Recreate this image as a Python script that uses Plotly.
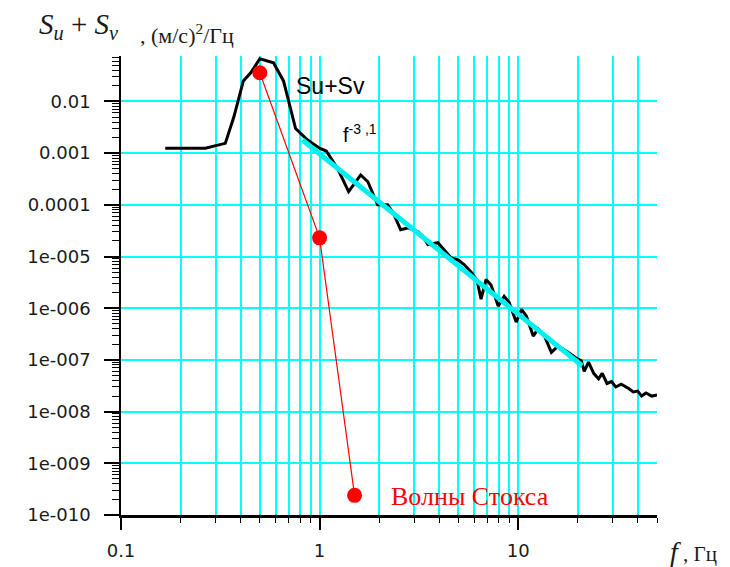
import numpy as np
import plotly.graph_objects as go

# Measured spectrum Su+Sv
freq = [0.167, 0.266, 0.30, 0.335, 0.37, 0.413, 0.45, 0.50, 0.586, 0.658, 0.757, 0.87,
        1.0, 1.08, 1.23, 1.4, 1.61, 1.75, 1.96, 2.2, 2.35, 2.56, 2.8, 3.13, 3.3, 3.51,
        3.94, 4.2, 4.59, 5.0, 5.34, 5.8, 6.2, 6.5, 6.89, 7.3, 7.93, 8.5, 9.0, 9.77,
        10.4, 11.0, 11.9, 12.6, 13.5, 14.7, 15.9, 17.9, 19.5, 20.8, 21.5, 22.6, 24.0,
        25.4, 26.5, 28.0, 29.5, 31.0, 33.0, 36.0, 38.0, 40.0, 41.8, 44.0, 47.0, 50.0]
spec = [1.25e-3, 1.25e-3, 1.4e-3, 1.55e-3, 5e-3, 2.5e-2, 3.6e-2, 6.7e-2, 5.6e-2, 2.5e-2,
        3.0e-3, 1.8e-3, 1.25e-3, 1.1e-3, 5.1e-4, 1.8e-4, 3.8e-4, 2.8e-4, 1.0e-4, 1.0e-4,
        7e-5, 3.3e-5, 3.6e-5, 3.0e-5, 2.5e-5, 1.7e-5, 1.85e-5, 1.4e-5, 9.5e-6, 8.5e-6,
        7e-6, 5e-6, 3.5e-6, 1.5e-6, 3.6e-6, 2.8e-6, 1.1e-6, 1.7e-6, 1.3e-6, 5.4e-7,
        9.5e-7, 7e-7, 2.9e-7, 4e-7, 3e-7, 1.4e-7, 1.86e-7, 1.4e-7, 1.1e-7, 9.6e-8, 6e-8,
        9.1e-8, 5.5e-8, 4.3e-8, 5.5e-8, 3.5e-8, 3.8e-8, 3.0e-8, 3.4e-8, 2.8e-8, 2.4e-8,
        2.5e-8, 2.0e-8, 2.3e-8, 2.0e-8, 2.1e-8]

# Power-law fit f^-3.1 (end points)
fit_f = [0.82, 21.0]
fit_s = [1.8e-3, 7.7e-8]

# Stokes waves
stokes_f = [0.5, 1.0, 1.5]
stokes_s = [3.6e-2, 2.3e-5, 2.4e-10]

# Axis ticks
x_ticks = [0.1, 1, 10]
x_labels = ["0.1", "1", "10"]
y_ticks = [1e-2, 1e-3, 1e-4, 1e-5, 1e-6, 1e-7, 1e-8, 1e-9, 1e-10]
y_labels = ["0.01", "0.001", "0.0001", "1e-005", "1e-006", "1e-007", "1e-008",
            "1e-009", "1e-010"]

x_minor = [k * 10.0 ** n for n in (-1, 0, 1) for k in range(2, 10) if k * 10.0 ** n <= 50]
y_minor = [k * 10.0 ** n for n in range(-10, -1) for k in range(2, 10)]

CYAN = "#00FFFF"
tick_font = dict(family="DejaVu Sans", size=18, color="#1a1a1a")

fig = go.Figure()
fig.add_trace(go.Scatter(x=freq, y=spec, mode="lines",
                         line=dict(color="black", width=3)))
fig.add_trace(go.Scatter(x=fit_f, y=fit_s, mode="lines",
                         line=dict(color="#00F0F0", width=5)))
fig.add_trace(go.Scatter(x=stokes_f, y=stokes_s, mode="lines+markers",
                         line=dict(color="red", width=1.2),
                         marker=dict(color="red", size=15), cliponaxis=False))

fig.update_xaxes(type="log", range=[-1, np.log10(50)], automargin=False,
                 tickmode="array", tickvals=x_ticks, ticktext=x_labels,
                 ticks="outside", ticklen=12, tickwidth=1.5, tickcolor="black",
                 showline=True, linecolor="black", linewidth=3,
                 showgrid=True, gridcolor=CYAN, gridwidth=1.5, zeroline=False,
                 tickfont=tick_font, ticklabelstandoff=5,
                 minor=dict(tickmode="array", tickvals=x_minor, ticks="outside",
                            ticklen=5, tickwidth=1.2, tickcolor="black",
                            showgrid=True, gridcolor=CYAN, gridwidth=1.5))
fig.update_yaxes(type="log", range=[-10, -1.12], automargin=False,
                 tickmode="array", tickvals=y_ticks, ticktext=y_labels,
                 ticks="outside", ticklen=15, tickwidth=1.5, tickcolor="black",
                 showline=True, linecolor="black", linewidth=1.5,
                 showgrid=True, gridcolor=CYAN, gridwidth=1.5, zeroline=False,
                 tickfont=tick_font, ticklabelstandoff=10,
                 minor=dict(tickmode="array", tickvals=y_minor, ticks="outside",
                            ticklen=7, tickwidth=1.2, tickcolor="black",
                            showgrid=False))

annotations = [
    # y-axis title
    dict(x=-0.157, y=1.066, xref="paper", yref="paper", xanchor="left", yanchor="middle",
         text="<i>S</i><sub><i>u</i></sub> + <i>S</i><sub><i>v</i></sub>",
         font=dict(family="Liberation Serif", size=29, color="#1a1a1a"), showarrow=False),
    dict(x=0.0317, y=1.048, xref="paper", yref="paper", xanchor="left", yanchor="middle",
         text=", (м/с)<sup>2</sup>/Гц",
         font=dict(family="Liberation Serif", size=22, color="#1a1a1a"), showarrow=False),
    # x-axis title
    dict(x=1.0205, y=-0.08, xref="paper", yref="paper", xanchor="left", yanchor="middle",
         text="<i>f</i><span style='font-size:21px'> , Гц</span>",
         font=dict(family="Liberation Serif", size=28, color="#1a1a1a"), showarrow=False),
    # series labels
    dict(x=0.390, y=0.935, xref="paper", yref="paper", xanchor="center", yanchor="middle",
         text="Su+Sv", font=dict(family="Liberation Sans", size=23, color="black"),
         showarrow=False),
    dict(x=0.446, y=0.832, xref="paper", yref="paper", xanchor="center", yanchor="middle",
         text="f<sup>-3 ,1</sup>", font=dict(family="Liberation Sans", size=20, color="black"),
         showarrow=False),
    dict(x=(389 - 121) / 536, y=(515 - 496) / 459, xref="paper", yref="paper",
         xanchor="left", yanchor="middle",
         text="Волны Стокса", font=dict(family="Liberation Serif", size=26, color="red"),
         showarrow=False),
]

fig.update_layout(width=730, height=567,
                  margin=dict(l=121, r=73, t=56, b=52),
                  plot_bgcolor="white", paper_bgcolor="white",
                  showlegend=False, annotations=annotations)

fig.write_html("out.html")
